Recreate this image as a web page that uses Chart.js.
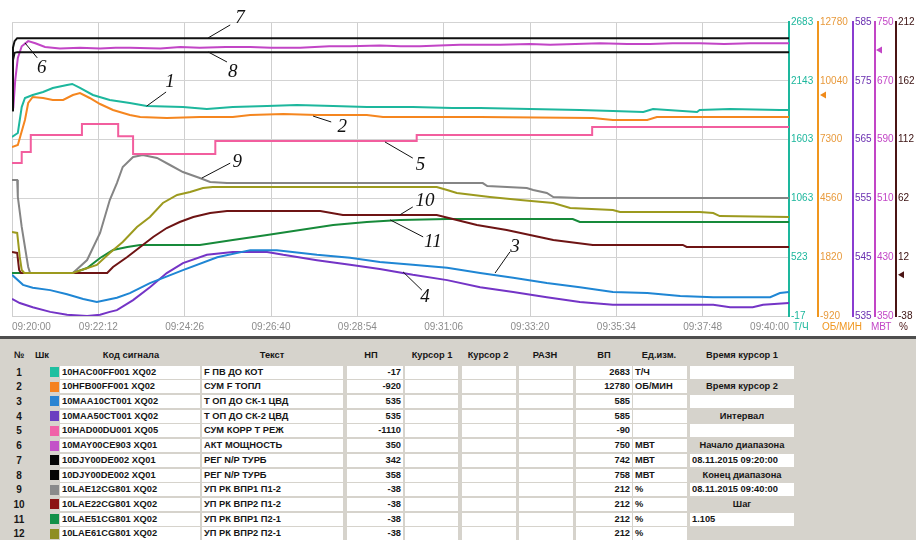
<!DOCTYPE html>
<html><head><meta charset="utf-8">
<script src="https://cdn.jsdelivr.net/npm/chart.js@4.4.1/dist/chart.umd.min.js"></script>
<style>
html,body{margin:0;padding:0;background:#fff;}
#wrap{position:relative;width:916px;height:540px;overflow:hidden;font-family:"Liberation Sans",Arial,sans-serif;}
#cv{position:absolute;left:0;top:0;}
#sep{position:absolute;left:0;top:336px;width:916px;height:3px;background:#4e4e4e;}
#tbl{position:absolute;left:0;top:339px;width:916px;height:201px;background:#d6d3cc;}
.c{position:absolute;font-size:9.3px;font-weight:bold;color:#161616;white-space:nowrap;line-height:13px;height:13px;}
.box{position:absolute;background:#fff;height:13px;}
.sw{position:absolute;width:9px;height:10px;}
</style></head><body>
<div id="wrap"><canvas id="cv" width="916" height="336" style="width:916px;height:336px"></canvas><div id="sep"></div><div id="tbl"></div></div>
<script>
// ---------- time axis ----------
const timeLabels = ['09:20:00','09:22:12','09:24:26','09:26:40','09:28:54','09:31:06','09:33:20','09:35:34','09:37:48','09:40:00'];
const timeSpan = 1200; // seconds, 09:20:00 .. 09:40:00

// ---------- right-hand axis ticks ----------
const tealTicks    = [-17, 523, 1063, 1603, 2143, 2683];
const orangeTicks  = [-920, 1820, 4560, 7300, 10040, 12780];
const violetTicks  = [535, 545, 555, 565, 575, 585];
const magentaTicks = [350, 430, 510, 590, 670, 750];
const brownTicks   = [-38, 12, 62, 112, 162, 212];

// ---------- series (time in s, value in units) ----------
const T1 = [0,9,15,20,32,48,63,85,93,105,125,151,182,208,264,301,341,394,440,496,548,619,680,723,800,877,928,975,990,1058,1062,1109,1186,1200];
const V1 = [1627,1664,1902,1985,2013,2040,2077,2104,2114,2077,2013,1967,1939,1912,1902,1884,1902,1912,1921,1912,1902,1902,1893,1893,1884,1875,1866,1857,1884,1857,1875,1884,1875,1875];
const T2 = [0,9,20,25,32,48,63,79,94,105,120,136,156,182,198,239,290,341,368,419,471,548,573,723,897,928,981,996,1200];
const V2 = [6955,7048,8213,9006,9285,9239,9145,9145,9378,9471,9239,8959,8679,8446,8353,8307,8353,8353,8446,8493,8446,8446,8353,8353,8307,8213,8213,8353,8353];
const T3 = [0,17,32,59,85,110,131,162,182,213,264,317,368,409,471,522,568,619,672,723,774,826,877,928,981,1032,1083,1171,1186,1200];
const V3 = [542,540.3,539.8,539.4,538.7,537.9,537.4,538.1,538.9,540.6,542.8,545,546.2,546.2,545.4,544.9,544.2,543.7,543.2,542.3,541.5,540.6,539.9,539.1,538.9,538.4,538.2,538.2,538.9,539.1];
const T4 = [0,12,32,59,85,116,136,151,162,187,213,239,264,301,341,394,419,471,522,568,619,672,723,774,826,877,928,1083,1109,1144,1160,1200];
const V4 = [537.9,537.2,536.5,535.7,535.2,535,535.2,535.7,536,537.7,539.9,542.3,544,545.4,545.9,545.9,545.4,544.5,543.7,543,542,541.1,539.9,539.1,538.2,537.4,536.9,536.9,536.5,536.5,536.9,537.2];
const T5 = [0,15,29,108,164,187,314,625,896,1200];
const V5 = [-579,-541,-482,-444,-486,-548,-503,-482,-454,-454];
const T6 = [0,2,5,9,15,25,36,51,74,105,136,160,182,229,260,290,330,368,400,445,490,522,568,600,630,660,692,754,800,831,870,908,950,985,1020,1062,1100,1140,1170,1200];
const V6 = [630,633,671,701,717,724,721,716,714,715,714,715,715,714,716,715,716,716,715,715,717,717,718,717,717,718,719,719,720,719,720,721,720,720,721,721,720,721,721,721];
const T7 = [0,1.5,4,8,1200];
const V7 = [622,707,716,720,720];
const T8 = [0,1.5,4,8,1200];
const V8 = [638,706,716,717,717];
const T9 = [0,8,9,15,20,25,28,94,116,136,151,162,171,187,202,224,244,264,290,306,332,727,734,795,805,826,836,877,1200];
const V9 = [77.6,77.6,63.2,37.7,20.7,3.7,-1.4,-1.4,9.6,32.6,60.6,75,88.7,97.2,98.9,96.4,90.4,84.4,79.3,75.9,75,75,72.5,70.8,69.1,66.6,63.2,62.3,62.3];
const T10 = [0,8,11,14,147,156,178,198,218,239,259,280,306,332,476,511,656,687,718,764,800,836,897,1036,1042,1200];
const V10 = [16.4,15.6,1.1,-1.4,-1.4,3.7,12.2,20.7,29.2,36.8,41.9,46.2,49.6,51.3,51.3,47.9,47.9,43.6,39.4,35.1,30.9,26.6,22.4,22.4,20.7,20.7];
const T11 = [0,94,116,136,156,178,198,290,341,394,445,496,548,599,672,866,877,1200];
const V11 = [-1.4,-1.4,2.8,11.3,18.1,20.7,22.4,22.4,26.6,30.9,35.1,39.4,41.9,43.6,44.5,44.5,41.9,41.9];
const T12 = [0,8,12,15,19,94,131,151,171,193,213,233,255,275,295,310,656,672,687,738,785,836,862,928,939,1062,1083,1093,1200];
const V12 = [33.4,32.6,12.2,1.1,-1.4,-1.4,5.4,15.6,25,37.7,46.2,58.1,64.9,67.4,70.8,71.7,71.7,69.1,66.6,63.2,60.6,58.1,53.8,52.1,50.4,50.4,49.6,47,46.2];

// ---------- table data ----------
const sigCodes = ['10HAC00FF001 XQ02','10HFB00FF001 XQ02','10MAA10CT001 XQ02','10MAA50CT001 XQ02','10HAD00DU001 XQ05','10MAY00CE903 XQ01','10DJY00DE002 XQ01','10DJY00DE002 XQ01','10LAE12CG801 XQ02','10LAE22CG801 XQ02','10LAE51CG801 XQ02','10LAE61CG801 XQ02'];
const sigTexts = ['F ПВ ДО КОТ','СУМ F ТОПЛ','Т ОП ДО СК-1 ЦВД','Т ОП ДО СК-2 ЦВД','СУМ КОРР Т РЕЖ','АКТ МОЩНОСТЬ','РЕГ N/P ТУРБ','РЕГ N/P ТУРБ','УП РК ВПР1 П1-2','УП РК ВПР2 П1-2','УП РК ВПР1 П2-1','УП РК ВПР2 П2-1'];
const lowVals  = [-17,-920,535,535,-1110,350,342,358,-38,-38,-38,-38];
const highVals = [2683,12780,585,585,-90,750,742,758,212,212,212,212];
const unitVals = ['Т/Ч','ОБ/МИН','','','','МВТ','МВТ','МВТ','%','%','%','%'];
const colors   = ['#1db79d','#f5861f','#1f86d4','#7434c6','#f25e9e','#c245c6','#111111','#111111','#858585','#6e1414','#178a3a','#9c9a1e'];
const swatches = ['#1fbfa0','#f5821f','#2a84d2','#6a3fc0','#f062a8','#c352c8','#050505','#050505','#8a8a8a','#8c1414','#129048','#8e8e22'];
const sideItems = [['Время курсор 1','label'],['','box'],['Время курсор 2','label'],['','box'],['Интервал','label'],['','box'],['Начало диапазона','label'],['08.11.2015 09:20:00','box'],['Конец диапазона','label'],['08.11.2015 09:40:00','box'],['Шаг','label'],['1.105','box']];

// ---------- annotations: [text, tText, pText, tLine1, pLine1, tLine2, pLine2] (p = 0..100 of plot height) ----------
const annotations = [
  ['1',244,79.6,238,76.2,208,71.4],
  ['2',510,64.3,493,66,465,68],
  ['3',777,23.5,769,21.8,746,14.6],
  ['4',638,6.5,633,8.8,604,15],
  ['5',631,51.5,619,53.7,576,59.2],
  ['6',46,84.4,39,87.8,20,92.9],
  ['7',352,101.4,337,99,303,94.6],
  ['8',341,83,332,86.4,303,89.8],
  ['9',348,52.4,337,52,293,46.9],
  ['10',638,39.1,619,37.1,599,34.4],
  ['11',650,25.2,635,26.9,584,32.7]
];
// value markers on axes: [axis, value, colour, offset]
const markers = [['yO',9378,'#f08a1a',2],['yM',712,'#c245c6',1],['yB',-3,'#4a1414',2]];
// axis unit captions: [axis, text, colour, offset]
const unitLabels = [['yT','Т/Ч','#1db79d',4],['yO','ОБ/МИН','#f0961e',4],['yM','МВТ','#c245c6',-4],['yB','%','#4a1414',3]];

function pts(T,V){ return T.map((t,i)=>({x:t,y:V[i]})); }
const seriesT = [T1,T2,T3,T4,T5,T6,T7,T8,T9,T10,T11,T12];
const seriesV = [V1,V2,V3,V4,V5,V6,V7,V8,V9,V10,V11,V12];
const axisOf = ['yT','yO','yV','yV','yP','yM','y7','y8','yB','yB','yB','yB'];
const drawOrder = [5,5,6,6,4,3,1,1,8,9,9,7];

const datasets = seriesT.map((T,i)=>({
  label: sigTexts[i], data: pts(T, seriesV[i]), yAxisID: axisOf[i],
  borderColor: colors[i], borderWidth: 2, pointRadius: 0, fill: false, tension: 0,
  stepped: i===4 ? true : false, order: drawOrder[i]
}));

function rightAxis(ticksArr, color, labelColor, w, weight, grid){
  return {
    type:'linear', position:'right', weight: weight,
    min: ticksArr[0], max: ticksArr[ticksArr.length-1],
    afterBuildTicks: s => { s.ticks = ticksArr.map(v=>({value:v})); },
    afterFit: s => { s.width = w; },
    grid: grid ? {display:true, drawTicks:false, color:'#d3d3d3', lineWidth:1} : {display:false, drawOnChartArea:false, drawTicks:false},
    border: {display:true, color: color, width: 2},
    ticks: {color: labelColor, padding: 2, font:{size:10}, autoSkip:false, crossAlign:'near', callback: v => String(v)}
  };
}
function hiddenAxis(mn, mx){ return {type:'linear', display:false, min:mn, max:mx}; }

Chart.defaults.font.family = '"Liberation Sans", Arial, sans-serif';

const overlay = {
  id:'overlay',
  afterDraw(chart){
    const ctx = chart.ctx, xs = chart.scales.x, ya = chart.scales.yA;
    ctx.save();
    ctx.strokeStyle = '#111'; ctx.lineWidth = 1; ctx.fillStyle = '#111';
    ctx.font = 'italic 19px "Liberation Serif", "Times New Roman", serif';
    ctx.textAlign = 'center'; ctx.textBaseline = 'middle';
    annotations.forEach(a=>{
      ctx.beginPath();
      ctx.moveTo(xs.getPixelForValue(a[3]), ya.getPixelForValue(a[4]));
      ctx.lineTo(xs.getPixelForValue(a[5]), ya.getPixelForValue(a[6]));
      ctx.stroke();
      ctx.fillText(a[0], xs.getPixelForValue(a[1]), ya.getPixelForValue(a[2]));
    });
    markers.forEach(m=>{
      const s = chart.scales[m[0]], y = s.getPixelForValue(m[1]), x0 = s.left + m[3];
      ctx.fillStyle = m[2];
      ctx.beginPath(); ctx.moveTo(x0, y); ctx.lineTo(x0+6, y-3.5); ctx.lineTo(x0+6, y+3.5); ctx.closePath(); ctx.fill();
    });
    ctx.font = '10px "Liberation Sans", Arial, sans-serif';
    ctx.textAlign = 'left';
    unitLabels.forEach(u=>{
      const s = chart.scales[u[0]];
      ctx.fillStyle = u[2];
      ctx.fillText(u[1], s.left + u[3], chart.chartArea.bottom + 11);
    });
    ctx.restore();
  }
};

new Chart(document.getElementById('cv'), {
  type:'line',
  data:{datasets},
  options:{
    responsive:false, animation:false, events:[],
    layout:{padding:{left:12, top:22, right:0, bottom:0}},
    plugins:{legend:{display:false}, tooltip:{enabled:false}},
    scales:{
      x:{type:'linear', min:0, max:timeSpan,
         afterBuildTicks: s => { s.ticks = timeLabels.map((l,i)=>({value: i*timeSpan/(timeLabels.length-1)})); },
         afterFit: s => { s.height = 20; },
         grid:{display:true, drawTicks:false, color:'#cfcfcf', lineWidth:1},
         border:{display:true, color:'#cfcfcf', width:1},
         ticks:{align:'inner', maxRotation:0, autoSkip:false, padding:5, color:'#8c8c8c', font:{size:10},
                callback:(v,i)=>timeLabels[i]}},
      yT: rightAxis(tealTicks, '#1db79d', '#1db79d', 29, 1, true),
      yO: rightAxis(orangeTicks, '#f0961e', '#e89a3c', 35, 2, false),
      yV: rightAxis(violetTicks, '#8a3cd0', '#6a2fb0', 22, 3, false),
      yM: rightAxis(magentaTicks, '#c245c6', '#c245c6', 21, 4, false),
      yB: rightAxis(brownTicks, '#4a1414', '#3a1010', 20, 5, false),
      yP: hiddenAxis(-1110, -90),
      y7: hiddenAxis(342, 742),
      y8: hiddenAxis(358, 758),
      yA: hiddenAxis(0, 100)
    }
  },
  plugins:[overlay]
});

// ---------- table ----------
const tbl = document.getElementById('tbl');
const TOP = 339;
function rowY(i){ return (i===0 ? 355 : 372 + (i-1)*14.72) - TOP; }
function addBox(x1,x2,yc){ const d=document.createElement('div'); d.className='box'; d.style.left=x1+'px'; d.style.width=(x2-x1)+'px'; d.style.top=(yc-6.5)+'px'; tbl.appendChild(d); }
function addText(t,x,yc,align,size){
  const d=document.createElement('div'); d.className='c'; d.textContent=t;
  if(size) d.style.fontSize=size+'px';
  d.style.top=(yc-6.5)+'px';
  if(align==='left'){ d.style.left=x+'px'; }
  else if(align==='right'){ d.style.left=(x-200)+'px'; d.style.width='200px'; d.style.textAlign='right'; }
  else { d.style.left=(x-100)+'px'; d.style.width='200px'; d.style.textAlign='center'; }
  tbl.appendChild(d);
}
const h = rowY(0);
addText('№',19,h,'center'); addText('Шк',42,h,'center'); addText('Код сигнала',131,h,'center');
addText('Текст',272,h,'center'); addText('НП',371,h,'center'); addText('Курсор 1',432,h,'center');
addText('Курсор 2',488,h,'center'); addText('РАЗН',545,h,'center'); addText('ВП',604,h,'center');
addText('Ед.изм.',659,h,'center');
for(let i=1;i<=12;i++){
  const yc=rowY(i);
  addText(String(i),19,yc,'center',10);
  const s=document.createElement('div'); s.className='sw'; s.style.left='50px'; s.style.top=(yc-5)+'px'; s.style.background=swatches[i-1]; tbl.appendChild(s);
  addBox(60,200,yc); addText(sigCodes[i-1],62,yc,'left');
  addBox(202,343,yc); addText(sigTexts[i-1],204,yc,'left');
  addBox(347,403,yc); addText(String(lowVals[i-1]),401,yc,'right');
  addBox(405,458,yc); addBox(462,516,yc); addBox(519,573,yc);
  addBox(576,632,yc); addText(String(highVals[i-1]),630,yc,'right');
  addBox(633,687,yc); addText(unitVals[i-1],635,yc,'left');
}
sideItems.forEach((it,k)=>{
  const yc=rowY(k);
  if(it[1]==='label'){ addText(it[0],742,yc,'center'); }
  else { addBox(690,794,yc); addText(it[0],692,yc,'left'); }
});
</script>
</body></html>
